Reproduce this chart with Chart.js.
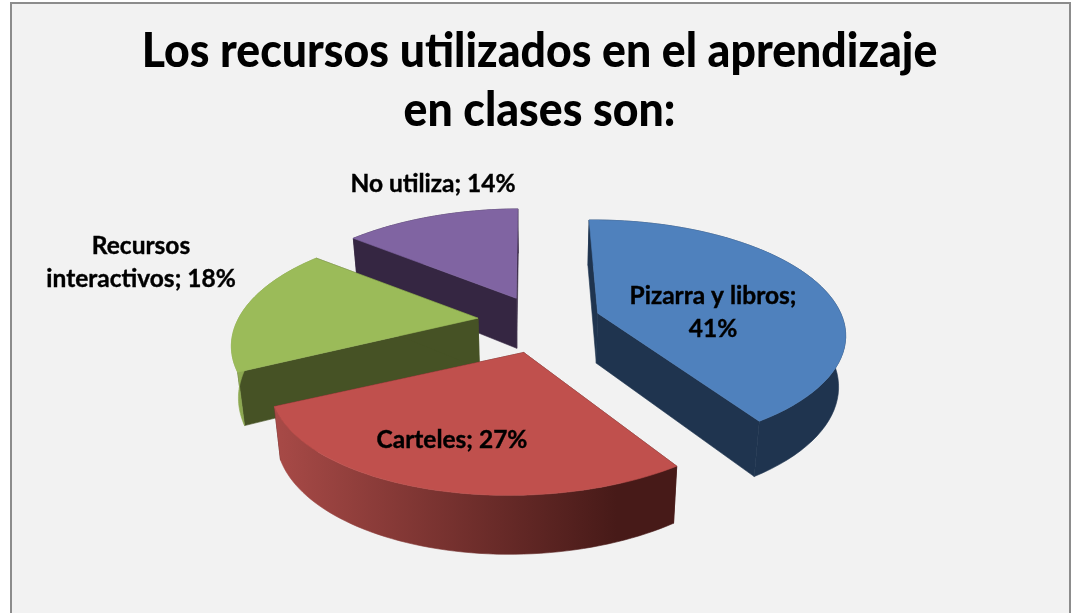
<!DOCTYPE html>
<html><head><meta charset="utf-8">
<style>
html,body{margin:0;padding:0;background:#fff;overflow:hidden;width:1072px;height:613px}
#frame{position:absolute;left:10px;top:2px;width:1057px;height:700px;border:2px solid #8c8c8c;background:#f2f2f2}
#c{position:absolute;left:0;top:0}
</style>
<script src="https://cdn.jsdelivr.net/npm/chart.js@4"></script>
</head><body>
<div id="frame"></div>
<canvas id="c" width="1072" height="613"></canvas>
<script>
const categories = ["Pizarra y libros","Carteles","Recursos interactivos","No utiliza"];
const values = [41,27,18,14];
const titleLines = ["Los recursos utilizados en el aprendizaje","en clases son:"];
const topColors = ["#4f81bd","#c0504d","#9bbb59","#8064a2"];
const cutColors = ["#1f344f","#4a1c1a","#465225","#352642"];
const wallColors = [["#1f344f","#1f344f"],["#a84a47","#471a18"],["#8fab52","#7d9748"],["#352642","#352642"]];
const drawOrder = [3,2,0,1];
const nudges = [[4,-3],[1,3],[-2,-3],[4,-2]];
const perspective = [0.18,0.23,0.23,0.23];
const shear = [-5,15,3,5];
const radiusScale = [1,1,0.985,1];
const labelBoxes = [
  {lines:["Pizarra y libros;","41%"],x:713,y:296},
  {lines:["Carteles; 27%"],x:452,y:440},
  {lines:["Recursos","interactivos; 18%"],x:141,y:246},
  {lines:["No utiliza; 14%"],x:433,y:184}
];
const V = {cx:538,cy:324,rx:243,ry:110,explode:0.24,depth:50,shrink:0.977};
function proj(i,ax,ay,X,Y){const s=1/(1+perspective[i]*Y);return {x:ax+X*V.rx*radiusScale[i]*s+shear[i]*Y,y:ay-Y*V.ry*s,s};}
function low(P){return {x:V.cx+(P.x-V.cx)*V.shrink,y:P.y+V.depth*(1+(P.s-1)*0.6)};}
function tracePoly(ctx,pts){ctx.beginPath();pts.forEach((p,i)=>i?ctx.lineTo(p.x,p.y):ctx.moveTo(p.x,p.y));ctx.closePath();}
function face(ctx,pts,fill){ctx.fillStyle=fill;ctx.strokeStyle=fill;ctx.lineWidth=0.6;tracePoly(ctx,pts);ctx.fill();ctx.stroke();}
const pie3d = {
  id:'pie3d',
  beforeDatasetsDraw(chart){
    const ctx=chart.ctx, arcs=chart.getDatasetMeta(0).data;
    drawOrder.forEach(i=>{
      const a=arcs[i], t0=a.startAngle+Math.PI/2, t1=a.endAngle+Math.PI/2, mid=(t0+t1)/2;
      const ax=V.cx+Math.sin(mid)*V.explode*V.rx+nudges[i][0], ay=V.cy-Math.cos(mid)*V.explode*V.ry+nudges[i][1];
      const apex={x:ax,y:ay,s:1}, rim=[];
      const n=60;
      for(let k=0;k<=n;k++){const t=t0+(t1-t0)*k/n;rim.push(proj(i,ax,ay,Math.sin(t),Math.cos(t)));}
      const rimLow=rim.map(low), apexLow=low(apex);
      face(ctx,[apex,apexLow,rimLow[0],rim[0]],cutColors[i]);
      face(ctx,[apex,apexLow,rimLow[n],rim[n]],cutColors[i]);
      const xs=rim.map(p=>p.x),g=ctx.createLinearGradient(Math.min(...xs),0,Math.max(...xs),0);
      g.addColorStop(0,wallColors[i][0]);g.addColorStop(0.85,wallColors[i][1]);g.addColorStop(1,wallColors[i][1]);
      face(ctx,rim.concat(rimLow.slice().reverse()),g);
      face(ctx,[apex].concat(rim),topColors[i]);
    });
    ctx.save();
    ctx.fillStyle='#000';ctx.strokeStyle='#000';ctx.lineWidth=0.4;ctx.textAlign='center';ctx.textBaseline='middle';
    ctx.font='bold 24.5px Lato';
    labelBoxes.forEach(b=>b.lines.forEach((l,j)=>{ctx.fillText(l,b.x,b.y+j*33);ctx.strokeText(l,b.x,b.y+j*33);}));
    ctx.restore();
    return false;
  }
};
const chart = new Chart(document.getElementById('c'),{
  type:'pie',
  data:{labels:categories,datasets:[{data:values,backgroundColor:topColors,borderWidth:0}]},
  plugins:[pie3d,{id:'narrowTitle',beforeDraw(c){
    const b=c.titleBlock;
    if(b.__wrapped)return;b.__wrapped=true;
    const d=b.draw;
    b.draw=function(chartArea){const ctx=this.ctx;ctx.save();ctx.translate(539.5,0);ctx.scale(0.929,1);ctx.translate(-536,0);d.call(this,chartArea);ctx.restore();};
  }}],
  options:{responsive:false,animation:false,rotation:-1,
    layout:{padding:0},
    plugins:{legend:{display:false},tooltip:{enabled:false},
      title:{display:true,text:titleLines,color:'#000',align:'center',
        font:{family:'Lato',weight:'900',size:48,lineHeight:1.23},padding:{top:22,bottom:0}}}}
});
</script>
</body></html>
